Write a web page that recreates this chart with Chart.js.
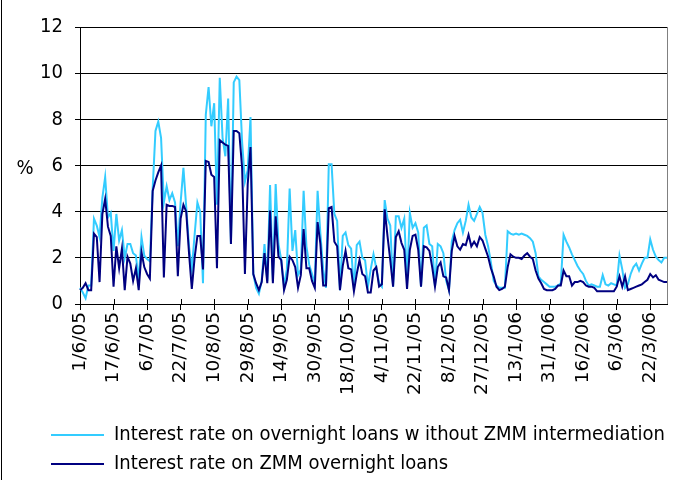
<!doctype html>
<html lang="en">
<head>
<meta charset="utf-8">
<title>Overnight interest rates</title>
<style>
  * { margin: 0; padding: 0; }
  body { background: #fff; }
  .chartBox { width: 677px; height: 480px; }
</style>
</head>
<body>
<div class="chartBox"><canvas id="myChart"></canvas></div>
<script src="https://cdn.jsdelivr.net/npm/chart.js"></script>
<script>
// one tick label every 12 working days
const tickLabels = ['1/6/05', '17/6/05', '6/7/05', '22/7/05', '10/8/05', '29/8/05', '14/9/05',
  '30/9/05', '18/10/05', '4/11/05', '22/11/05', '8/12/05', '27/12/05', '13/1/06', '31/1/06',
  '16/2/06', '6/3/06', '22/3/06'];
const tickStep = 12;

// Interest rate on overnight loans without ZMM intermediation (%)
const withoutZmm = [
  0.7, 0.5, 0.25, 0.8, 0.8, 3.7, 3.4, 2.9, 4.6, 5.5, 3.75, 3.95,
  2.3, 3.9, 2.75, 3.2, 2.0, 2.6, 2.6, 2.2, 2.1, 1.0, 2.9, 2.1,
  1.95, 1.85, 5.0, 7.5, 7.9, 7.2, 4.4, 5.1, 4.5, 4.8, 4.4, 2.5,
  4.4, 5.9, 4.2, 2.5, 1.5, 3.0, 4.4, 4.0, 0.9, 8.2, 9.4, 7.7,
  8.7, 4.3, 9.8, 7.2, 6.4, 8.9, 2.6, 9.6, 9.85, 9.7, 7.0, 5.3,
  5.8, 8.1, 1.3, 0.7, 0.45, 1.0, 2.6, 1.0, 5.15, 1.0, 5.2, 2.6,
  1.9, 0.8, 1.5, 5.0, 2.3, 3.2, 1.25, 1.5, 4.9, 2.5, 1.7, 1.3,
  0.9, 4.9, 3.05, 1.5, 0.7, 6.05, 6.05, 3.9, 3.6, 0.6, 2.95, 3.1,
  2.55, 2.4, 0.65, 2.55, 2.7, 2.0, 1.9, 0.75, 1.5, 2.15, 1.55, 0.9,
  0.75, 4.5, 3.7, 3.4, 0.75, 3.8, 3.8, 3.3, 3.7, 1.0, 3.95, 3.3,
  3.5, 3.1, 0.75, 3.3, 3.4, 2.6, 2.5, 0.75, 2.6, 2.5, 2.2, 1.0,
  0.6, 2.7, 3.2, 3.5, 3.65, 3.1, 3.6, 4.3, 3.75, 3.6, 3.9, 4.2,
  3.95, 3.0, 2.5, 1.8, 1.0, 0.8, 0.7, 0.7, 0.7, 3.15, 3.05, 3.0,
  3.05, 3.0, 3.05, 3.0, 2.95, 2.85, 2.7, 2.2, 1.2, 1.05, 0.95, 0.85,
  0.75, 0.75, 0.75, 0.8, 0.9, 3.0, 2.7, 2.45, 2.15, 1.9, 1.65, 1.45,
  1.3, 1.0, 0.8, 0.85, 0.8, 0.75, 0.75, 1.25, 0.85, 0.8, 0.9, 0.85,
  0.8, 2.1, 1.5, 0.7, 0.85, 1.3, 1.6, 1.75, 1.45, 1.75, 2.0, 2.0,
  2.8, 2.35, 2.05, 1.9, 1.8, 2.0, 2.0
];

// Interest rate on ZMM overnight loans (%)
const zmm = [
  0.6, 0.7, 0.9, 0.6, 0.6, 3.05, 2.9, 0.95, 3.9, 4.55, 3.35, 2.95,
  0.75, 2.5, 1.55, 2.4, 0.6, 2.05, 1.75, 1.0, 1.55, 0.6, 2.25, 1.6,
  1.3, 1.1, 4.9, 5.35, 5.7, 6.0, 1.15, 4.3, 4.25, 4.25, 4.2, 1.2,
  3.7, 4.3, 4.0, 2.2, 0.65, 2.0, 2.95, 2.95, 1.5, 6.2, 6.15, 5.6,
  5.5, 1.55, 7.1, 7.0, 6.9, 6.85, 2.6, 7.5, 7.5, 7.4, 5.9, 1.3,
  5.2, 6.8, 1.3, 0.9, 0.6, 0.95, 2.2, 0.9, 4.05, 0.9, 3.8, 2.05,
  1.9, 0.6, 1.05, 2.05, 1.9, 1.6, 0.7, 1.25, 3.25, 1.55, 1.55, 1.0,
  0.7, 3.55, 2.6, 0.8, 0.8, 4.15, 4.2, 2.7, 2.5, 0.6, 1.65, 2.3,
  1.55, 1.5, 0.55, 1.3, 1.9, 1.3, 1.2, 0.5, 0.5, 1.45, 1.6, 0.75,
  0.85, 4.1, 2.95, 1.9, 0.75, 2.9, 3.15, 2.65, 2.35, 0.65, 2.35, 2.95,
  3.0, 2.35, 0.75, 2.5, 2.45, 2.3, 1.6, 0.75, 1.6, 1.8, 1.2, 1.15,
  0.6, 2.3, 2.95, 2.5, 2.35, 2.6, 2.55, 3.0, 2.5, 2.7, 2.5, 2.9,
  2.75, 2.4, 2.05, 1.55, 1.2, 0.75, 0.6, 0.65, 0.75, 1.6, 2.15, 2.05,
  2.0, 2.0, 1.95, 2.1, 2.2, 2.05, 1.95, 1.45, 1.1, 0.9, 0.65, 0.6,
  0.6, 0.6, 0.65, 0.8, 0.8, 1.45, 1.2, 1.2, 0.8, 0.95, 0.95, 1.0,
  0.95, 0.8, 0.75, 0.75, 0.7, 0.55, 0.55, 0.55, 0.55, 0.55, 0.55, 0.55,
  0.75, 1.2, 0.75, 1.2, 0.6, 0.65, 0.7, 0.75, 0.8, 0.85, 0.95, 1.05,
  1.3, 1.15, 1.25, 1.05, 1.0, 0.95, 0.95
];

const labels = withoutZmm.map((v, i) => i % tickStep === 0 ? tickLabels[i / tickStep] : '');

const narrow = '"Liberation Sans Narrow", "DejaVu Sans Condensed", "Liberation Sans", Arial, sans-serif';

// plot frame, tick marks that cross the x axis, outer frame edge and the "%" unit
const extras = {
  id: 'extras',
  afterDraw(chart) {
    const ctx = chart.ctx;
    const a = chart.chartArea;
    const x = chart.scales.x;
    ctx.save();
    ctx.lineWidth = 1;
    ctx.strokeStyle = '#808080';
    ctx.beginPath();
    ctx.moveTo(Math.round(a.right) + 0.5, a.top);
    ctx.lineTo(Math.round(a.right) + 0.5, a.bottom);
    ctx.stroke();
    ctx.strokeStyle = '#000';
    ctx.beginPath();
    x.ticks.forEach((t, k) => {
      const px = Math.round(x.getPixelForTick(k)) + 0.5;
      ctx.moveTo(px, a.bottom - 5);
      ctx.lineTo(px, a.bottom);
    });
    ctx.moveTo(1.5, 0);
    ctx.lineTo(1.5, chart.height);
    ctx.stroke();
    ctx.fillStyle = '#000';
    ctx.font = '20px ' + narrow;
    ctx.textAlign = 'center';
    ctx.textBaseline = 'middle';
    ctx.fillText('%', 25, (a.top + a.bottom) / 2 + 3);
    ctx.restore();
  }
};

const data = {
  labels: labels,
  datasets: [
    {
      label: 'Interest rate on overnight loans w ithout ZMM intermediation',
      data: withoutZmm,
      borderColor: '#33CCFF',
      backgroundColor: '#33CCFF',
      borderWidth: 2,
      pointRadius: 0,
      tension: 0,
      order: 2
    },
    {
      label: 'Interest rate on ZMM overnight loans',
      data: zmm,
      borderColor: '#000080',
      backgroundColor: '#000080',
      borderWidth: 2,
      pointRadius: 0,
      tension: 0,
      order: 1
    }
  ]
};

const config = {
  type: 'line',
  data,
  options: {
    animation: false,
    responsive: true,
    maintainAspectRatio: false,
    layout: { padding: { left: 42, top: 27, right: 10, bottom: -4 } },
    scales: {
      x: {
        offset: false,
        afterBuildTicks(scale) {
          scale.ticks = scale.ticks.filter(t => t.value % tickStep === 0);
        },
        afterFit(scale) { scale.height = 112; },
        grid: { drawOnChartArea: false, drawTicks: true, tickLength: 6, color: '#000' },
        border: { color: '#000', width: 1 },
        ticks: {
          autoSkip: false,
          maxRotation: 90,
          minRotation: 90,
          padding: 2,
          color: '#000',
          font: { family: '"DejaVu Sans", sans-serif', size: 18.5 }
        }
      },
      y: {
        min: 0,
        max: 12,
        afterFit(scale) { scale.width = 38; },
        grid: { color: '#000', tickLength: 5 },
        border: { color: '#000', width: 1 },
        ticks: {
          stepSize: 2,
          padding: 12,
          color: '#000',
          font: { family: narrow, size: 20 }
        }
      }
    },
    plugins: {
      tooltip: { enabled: false },
      legend: {
        position: 'bottom',
        align: 'start',
        labels: {
          boxWidth: 53,
          boxHeight: 2,
          padding: 9,
          color: '#000',
          font: { family: narrow, size: 20 },
          sort: (a, b) => a.datasetIndex - b.datasetIndex,
          generateLabels(chart) {
            const items = Chart.defaults.plugins.legend.labels.generateLabels(chart);
            items.forEach(it => { it.fillStyle = it.strokeStyle; it.lineWidth = 0; });
            return items;
          }
        }
      }
    }
  },
  plugins: [extras]
};

const myChart = new Chart(document.getElementById('myChart'), config);
</script>
</body>
</html>
